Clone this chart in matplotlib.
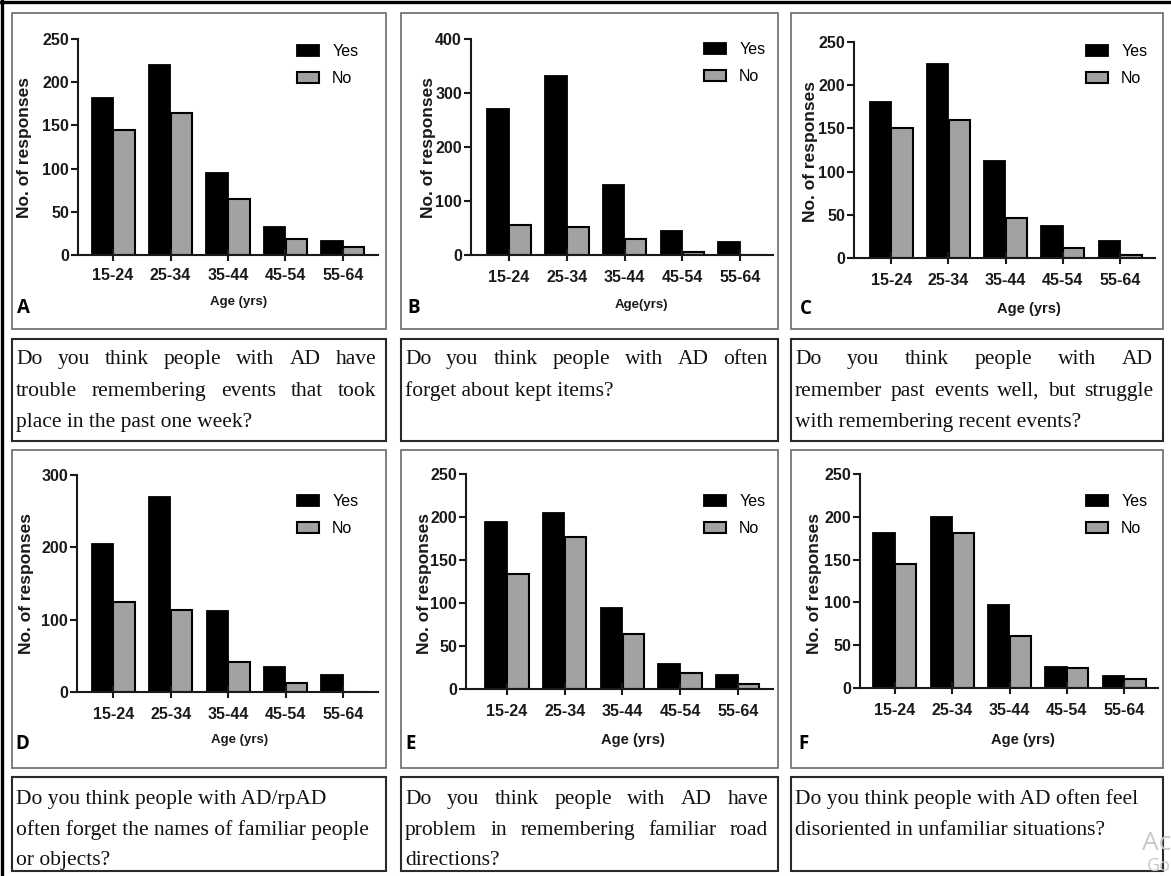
import matplotlib
matplotlib.use('Agg')
import matplotlib.pyplot as plt
from matplotlib.patches import Rectangle
from matplotlib.lines import Line2D
import numpy as np

W, H = 1171, 876

# Responses by age group for each question (Yes / No)
ages = ['15-24', '25-34', '35-44', '45-54', '55-64']

yes_a = [182, 220, 95, 32, 16]
no_a = [145, 164, 65, 18, 9]

yes_b = [271, 331, 130, 44, 24]
no_b = [55, 51, 30, 5, 0]

yes_c = [180, 225, 112, 37, 20]
no_c = [150, 160, 46, 11, 3]

yes_d = [205, 270, 112, 35, 23]
no_d = [124, 113, 42, 13, 0]

yes_e = [194, 205, 94, 29, 16]
no_e = [134, 177, 64, 19, 6]

yes_f = [181, 200, 97, 25, 14]
no_f = [145, 181, 61, 23, 10]

ymax = {'A': 250, 'B': 400, 'C': 250, 'D': 300, 'E': 250, 'F': 250}
ystep = {'A': 50, 'B': 100, 'C': 50, 'D': 100, 'E': 50, 'F': 50}

captions = {
    'A': ['Do you think people with AD have',
          'trouble remembering events that took',
          'place in the past one week?'],
    'B': ['Do you think people with AD often',
          'forget about kept items?'],
    'C': ['Do you think people with AD',
          'remember past events well, but struggle',
          'with remembering recent events?'],
    'D': ['Do you think people with AD/rpAD',
          'often forget the names of familiar people',
          'or objects?'],
    'E': ['Do you think people with AD have',
          'problem in remembering familiar road',
          'directions?'],
    'F': ['Do you think people with AD often feel',
          'disoriented in unfamiliar situations?'],
}
justify = {
    'A': [True, True, False], 'B': [True, False], 'C': [True, True, False],
    'D': [False, False, False], 'E': [True, True, False], 'F': [False, False],
}
xlabels = {'A': 'Age (yrs)', 'B': 'Age(yrs)', 'C': 'Age (yrs)',
           'D': 'Age (yrs)', 'E': 'Age (yrs)', 'F': 'Age (yrs)'}

data = {'A': (yes_a, no_a), 'B': (yes_b, no_b), 'C': (yes_c, no_c),
        'D': (yes_d, no_d), 'E': (yes_e, no_e), 'F': (yes_f, no_f)}

# layout in pixels: axes (left, right, top, bottom), xlim, panel box, caption box
layout = {
    'A': dict(ax=(78, 378, 39, 255), xlim=(-0.61, 4.61), box=(12, 386, 13, 329),
              cap=(12, 386, 339, 441), ylab=(25, 147), xlab=(239, 302, 9.5),
              letter=(23, 308), leg=(297, 44), tpad=4.5),
    'B': dict(ax=(471, 773, 39, 255), xlim=(-0.66, 4.57), box=(401, 778, 13, 329),
              cap=(401, 778, 339, 441), ylab=(428, 147), xlab=(641, 305, 9.5),
              letter=(414, 308), leg=(704, 42), tpad=6),
    'C': dict(ax=(854, 1155, 42, 258), xlim=(-0.65, 4.61), box=(791, 1163, 13, 329),
              cap=(791, 1163, 339, 441), ylab=(811, 151), xlab=(1029, 309, 10.5),
              letter=(806, 309), leg=(1086, 44), tpad=6),
    'D': dict(ax=(77, 378, 475, 692), xlim=(-0.63, 4.61), box=(12, 386, 450, 768),
              cap=(12, 386, 777, 871), ylab=(26, 583), xlab=(240, 740, 9.5),
              letter=(22, 744), leg=(297, 494), tpad=6),
    'E': dict(ax=(466, 773, 474, 689), xlim=(-0.71, 4.61), box=(401, 778, 450, 768),
              cap=(401, 778, 777, 871), ylab=(425, 583), xlab=(633, 740, 10.5),
              letter=(411, 744), leg=(704, 494), tpad=6),
    'F': dict(ax=(860, 1158, 474, 688), xlim=(-0.61, 4.59), box=(791, 1163, 450, 768),
              cap=(791, 1163, 777, 871), ylab=(815, 583), xlab=(1023, 740, 10.5),
              letter=(803, 744), leg=(1086, 494), tpad=6),
}

NO_GRAY = '#a2a2a2'
SANS = ['Liberation Sans', 'DejaVu Sans']
SERIF = ['Liberation Serif', 'DejaVu Serif']
CAP_SIZE = 15.5


def fx(px):
    return px / W


def fy(py):
    return 1 - py / H


fig = plt.figure(figsize=(W / 100, H / 100), dpi=100)
fig.patch.set_facecolor('white')
renderer = fig.canvas.get_renderer()


def box(x0, x1, y0, y1, color, lw):
    fig.add_artist(Rectangle((fx(x0), fy(y1)), fx(x1) - fx(x0), fy(y0) - fy(y1),
                             transform=fig.transFigure, fill=False,
                             edgecolor=color, linewidth=lw))


def caption(lines, flags, x0, x1, baselines):
    left, right = x0 + 4, x1 - 10
    for line, just, yb in zip(lines, flags, baselines):
        words = line.split()
        if not just or len(words) < 2:
            fig.text(fx(left), fy(yb), line, fontsize=CAP_SIZE, family=SERIF,
                     ha='left', va='baseline', color='#111111')
            continue
        widths = []
        for w in words:
            t = fig.text(0, 0, w, fontsize=CAP_SIZE, family=SERIF)
            widths.append(t.get_window_extent(renderer).width)
            t.remove()
        gap = (right - left - sum(widths)) / (len(words) - 1)
        x = left
        for w, wd in zip(words, widths):
            fig.text(fx(x), fy(yb), w, fontsize=CAP_SIZE, family=SERIF,
                     ha='left', va='baseline', color='#111111')
            x += wd + gap


x = np.arange(len(ages))
bw = 0.37

for key in 'ABCDEF':
    L = layout[key]
    l, r, t, b = L['ax']
    ax = fig.add_axes([fx(l), fy(b), fx(r) - fx(l), fy(t) - fy(b)])
    ax.patch.set_alpha(0)
    yes, no = data[key]
    ax.bar(x - 0.19, yes, bw, color='black', edgecolor='black', linewidth=1.3,
           label='Yes')
    ax.bar(x + 0.19, no, bw, color=NO_GRAY, edgecolor='black', linewidth=1.5,
           label='No')
    ax.set_xlim(*L['xlim'])
    ax.set_ylim(0, ymax[key])
    ax.set_yticks(np.arange(0, ymax[key] + 1, ystep[key]))
    ax.set_xticks(x)
    ax.set_xticklabels(ages)
    for s in ['top', 'right']:
        ax.spines[s].set_visible(False)
    for s in ['left', 'bottom']:
        ax.spines[s].set_linewidth(1.5)
        ax.spines[s].set_color('#1a1a1a')
    ax.tick_params(axis='y', direction='out', length=5, width=1.5, pad=1.5,
                   labelsize=11.5, color='#1a1a1a')
    ax.tick_params(axis='x', direction='inout', length=9, width=1.5, pad=L['tpad'],
                   labelsize=11.5, color='#1a1a1a')
    for lab in ax.get_xticklabels() + ax.get_yticklabels():
        lab.set_fontweight('bold')
        lab.set_family(SANS)
        lab.set_color('#1a1a1a')

    lx, ly = L['leg']
    ax.legend(loc='upper left', bbox_to_anchor=(fx(lx), fy(ly)),
              bbox_transform=fig.transFigure, frameon=False, borderpad=0,
              borderaxespad=0, handlelength=1.4, handleheight=0.75,
              handletextpad=0.8, labelspacing=0.75,
              prop={'family': SANS, 'size': 11.5})

    fig.text(fx(L['ylab'][0]), fy(L['ylab'][1]), 'No. of responses', rotation=90,
             ha='center', va='center', fontsize=12.5, fontweight='bold',
             family=SANS, color='#1a1a1a')
    xl = L['xlab']
    fig.text(fx(xl[0]), fy(xl[1]), xlabels[key], ha='center', va='center',
             fontsize=xl[2], fontweight='bold', family=SANS, color='#1a1a1a')
    fig.text(fx(L['letter'][0]), fy(L['letter'][1]), key, ha='center', va='center',
             fontsize=13.5, fontweight='bold', family=['Open Sans', 'DejaVu Sans'])

    bx = L['box']
    box(bx[0], bx[1], bx[2], bx[3], '#6a6a6a', 1.2)
    cx = L['cap']
    box(cx[0], cx[1], cx[2], cx[3], '#2a2a2a', 1.5)
    if cx[2] < 400:
        baselines = [364, 396, 427]
    else:
        baselines = [804, 835, 865]
    caption(captions[key], justify[key], cx[0], cx[1], baselines)

# heavy frame along the top and left edges
fig.add_artist(Line2D([0, 1], [fy(1.5), fy(1.5)], transform=fig.transFigure,
                      color='black', linewidth=2.4))
fig.add_artist(Line2D([fx(1.5), fx(1.5)], [0, 1], transform=fig.transFigure,
                      color='black', linewidth=2.4))

# faint system overlay letters at the lower right edge
fig.text(fx(1171), fy(844), 'Ac', fontsize=19, color='#c8c8c8',
         ha='right', va='center', family=['Open Sans', 'DejaVu Sans'])
fig.text(fx(1171), fy(866), 'Go', fontsize=13, color='#c8c8c8',
         ha='right', va='center', family=['Open Sans', 'DejaVu Sans'])

fig.savefig('out.png', dpi=100, facecolor='white')
